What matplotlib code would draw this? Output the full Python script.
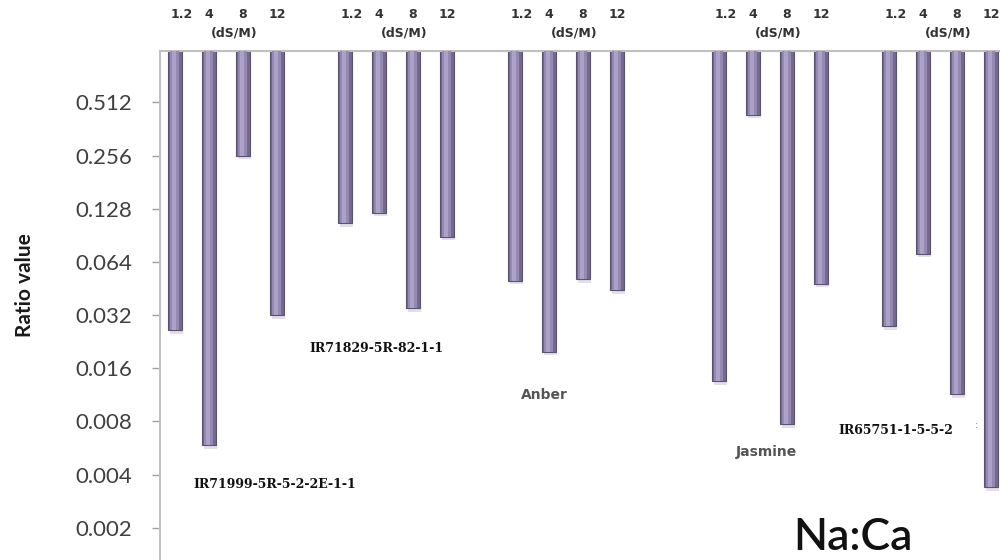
import matplotlib
matplotlib.use("Agg")
import matplotlib.pyplot as plt
import matplotlib.transforms as mtransforms
import numpy as np
from matplotlib.ticker import FixedLocator, NullLocator

# ---------------- data ----------------
cultivars = ["IR71999-5R-5-2-2E-1-1", "IR71829-5R-82-1-1", "Anber", "Jasmine", "IR65751-1-5-5-2"]
salinity = ["1.2", "4", "8", "12"]
unit_label = "(dS/M)"
g1_vals = [0.0262, 0.00585, 0.256, 0.0322]
g2_vals = [0.1056, 0.1218, 0.0353, 0.0891]
g3_vals = [0.0502, 0.0199, 0.0515, 0.0441]
g4_vals = [0.01347, 0.437, 0.00769, 0.0483]
g5_vals = [0.0276, 0.0714, 0.01138, 0.00339]
group_values = [g1_vals, g2_vals, g3_vals, g4_vals, g5_vals]
y_ticks = [0.002, 0.004, 0.008, 0.016, 0.032, 0.064, 0.128, 0.256, 0.512]
y_ticklabels = ["0.002", "0.004", "0.008", "0.016", "0.032", "0.064", "0.128", "0.256", "0.512"]
y_label = "Ratio value"
title = "Na:Ca"

# ---------------- layout ----------------
group_starts = [0, 5, 10, 16, 21]
top_val = 1.0

fig = plt.figure(figsize=(10, 5.6), dpi=100)
ax = fig.add_axes([0.16, -0.0375, 0.85, 0.9464])
ax.set_yscale("log", base=2)
ax.set_ylim(0.001, top_val)
ax.set_xlim(-0.44, 24.56)

bar_w = 0.41
for gs, vals in zip(group_starts, group_values):
    xs = np.arange(len(vals)) + gs
    vals = np.array(vals)
    # soft shadow below the bar end
    ax.bar(xs + 0.04, top_val - vals * 0.95, bottom=vals * 0.95, width=bar_w * 0.9,
           color="#e2e0e6", edgecolor="none", zorder=1)
    ax.bar(xs, top_val - vals, bottom=vals, width=bar_w,
           color="#756a8e", edgecolor="#5a516e", linewidth=0.8, zorder=2)
    ax.bar(xs - 0.01, top_val - vals, bottom=vals, width=bar_w * 0.62,
           color="#9489b0", edgecolor="none", zorder=3)
    ax.bar(xs - 0.03, top_val - vals, bottom=vals, width=bar_w * 0.28,
           color="#aca2c8", edgecolor="none", zorder=4)

# axes styling
for s in ["right", "bottom"]:
    ax.spines[s].set_visible(False)
for s in ["left", "top"]:
    ax.spines[s].set_color("#c0c0c0")
    ax.spines[s].set_linewidth(1.5)
ax.yaxis.set_major_locator(FixedLocator(y_ticks))
ax.yaxis.set_minor_locator(NullLocator())
ax.set_yticklabels(y_ticklabels, fontsize=16, color="#404040", family="Lato")
ax.tick_params(axis="y", length=6, width=1, color="#a0a0a0", pad=14)
ax.set_xticks([])

fig.text(0.025, 1 - 285 / 560, y_label, rotation=90, ha="center", va="center",
         fontsize=15, fontweight="bold", color="#1a1a1a", family="Lato")

# top salinity labels
trans = mtransforms.blended_transform_factory(ax.transData, fig.transFigure)
for gs in group_starts:
    for i, s in enumerate(salinity):
        ax.text(gs + i + (0.2 if i == 0 else 0.0), 1 - 15 / 560, s, transform=trans,
                ha="center", va="center", fontsize=9, fontweight="bold",
                color="#333333", family="DejaVu Sans", clip_on=False)
    ax.text(gs + 1.75, 1 - 33 / 560, unit_label, transform=trans, ha="center",
            va="center", fontsize=9, fontweight="bold", color="#333333",
            family="DejaVu Sans", clip_on=False)

# cultivar labels (pixel positions)
label_pos = [(275, 484), (376, 348), (544, 395), (766, 452), (896, 430)]
for name, (px, py) in zip(cultivars, label_pos):
    if name in ("Anber", "Jasmine"):
        fig.text(px / 1000, 1 - py / 560, name, ha="center", va="center",
                 fontsize=10, fontweight="bold", color="#555555", family="DejaVu Sans")
    else:
        fig.text(px / 1000, 1 - py / 560, name, ha="center", va="center",
                 fontsize=9, fontweight="bold", color="#111111", family="DejaVu Serif")

fig.text(0.977, 1 - 425 / 560, ":", ha="center", va="center", fontsize=7, color="#4a7fc0")

fig.text(0.853, 1 - 538 / 560, title, ha="center", va="center", fontsize=32,
         fontweight="semibold", color="#111111", family="Lato")

fig.savefig("out.png", dpi=100)
